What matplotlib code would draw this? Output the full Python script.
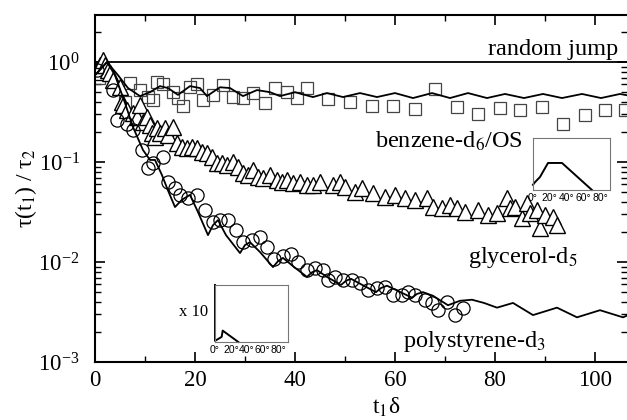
"""tau(t1)/tau2 vs t1*delta for three glass formers, log scale, with two angle-distribution insets."""
import matplotlib.pyplot as plt
import matplotlib as mpl
from matplotlib.ticker import MultipleLocator

mpl.rcParams.update({"font.family": "Liberation Serif", "font.size": 16.5,
                     "mathtext.fontset": "stix"})

# benzene-d6/OS: measured points and model curve
benz_t = [0.4, 0.8, 6, 7, 9, 10.6, 11.6, 12.4, 13.6, 15.6, 16.6, 17.6, 19, 20.4, 21.6,
          23.6, 25.6, 27.6, 29.6, 31.6, 34, 36, 38.4, 40.4, 42.4, 46.6, 51, 55.4, 59.6,
          64, 68, 72.4, 76.6, 81, 85, 89.4, 93.6, 98, 102, 106]
benz_v = [0.79, 0.69, 0.40, 0.62, 0.52, 0.45, 0.42, 0.63, 0.60, 0.50, 0.44, 0.36, 0.56,
          0.60, 0.42, 0.47, 0.59, 0.45, 0.44, 0.49, 0.39, 0.55, 0.50, 0.44, 0.55, 0.43,
          0.40, 0.36, 0.36, 0.34, 0.54, 0.355, 0.30, 0.35, 0.33, 0.355, 0.24, 0.295,
          0.33, 0.33]
benz_fit_t = [0, 2.4, 4.6, 6.6, 9, 11, 13, 14.6, 16.6, 19, 21, 22.4, 25, 27, 29.6, 32.4,
              35, 37, 40, 43.6, 46.4, 49.6, 53, 56.4, 60, 63.6, 67.4, 71, 74.6, 78.4,
              82, 85.8, 89.6, 93.4, 97.4, 101.2, 105, 107]
benz_fit_v = [0.74, 1.0, 0.74, 0.55, 0.457, 0.50, 0.575, 0.55, 0.47, 0.575, 0.55, 0.457,
              0.56, 0.55, 0.457, 0.525, 0.50, 0.457, 0.50, 0.447, 0.49, 0.447, 0.49,
              0.447, 0.49, 0.437, 0.49, 0.437, 0.49, 0.437, 0.48, 0.437, 0.48, 0.437,
              0.48, 0.437, 0.48, 0.46]

# glycerol-d5
glyc_t = [0, 0.6, 1, 1.6, 2, 2.6, 3, 3.6, 5, 5.4, 5.6, 6.4, 7.6, 8.4, 9, 9.6, 10.4, 11,
          11.4, 12, 12.4, 13, 14, 14.6, 15.6, 16.4, 17.4, 18.4, 19.4, 20.4, 21.4, 22.4,
          23.4, 24.4, 25.4, 26.4, 27.6, 28.6, 29.6, 30.6, 31.6, 32.6, 33.6, 35, 36.4,
          37.4, 38.4, 39.6, 41, 42.4, 43.6, 45, 47.6, 49, 50, 52, 53.4, 55.6, 58, 60,
          62, 64, 66.4, 67.6, 69.4, 71, 72.4, 74, 76.6, 78.6, 80.4, 82.4, 83, 84, 85.4,
          86.4, 87, 88.4, 89, 90, 91.6, 92.4]
glyc_v = [0.83, 0.79, 0.93, 1.05, 0.93, 0.83, 0.78, 0.66, 0.56, 0.40, 0.37, 0.33, 0.31,
          0.28, 0.37, 0.25, 0.28, 0.234, 0.195, 0.178, 0.22, 0.195, 0.22, 0.186, 0.224,
          0.155, 0.141, 0.138, 0.141, 0.138, 0.126, 0.123, 0.112, 0.098, 0.098, 0.093,
          0.10, 0.089, 0.078, 0.074, 0.083, 0.071, 0.069, 0.074, 0.066, 0.063, 0.066,
          0.062, 0.063, 0.059, 0.059, 0.063, 0.059, 0.063, 0.056, 0.050, 0.055, 0.049,
          0.045, 0.047, 0.044, 0.042, 0.044, 0.0355, 0.035, 0.037, 0.035, 0.0316, 0.033,
          0.0295, 0.031, 0.044, 0.035, 0.0355, 0.0275, 0.039, 0.031, 0.033, 0.022,
          0.0295, 0.028, 0.0234]

# polystyrene-d3
ps_t = [0.4, 3.6, 4.4, 6.4, 7.6, 9.4, 10.6, 11.6, 13.6, 14.6, 16, 17, 18.6, 20.4, 22,
        23.6, 25, 26.6, 28.2, 29.6, 31.4, 33, 34.4, 35.8, 37.6, 39.2, 40.6, 42.4, 44,
        45.6, 46.6, 48, 49.6, 51.4, 53, 54.6, 56.4, 58, 59.6, 61.4, 62.6, 64, 66, 67.4,
        68.6, 70.4, 72, 73.6]
ps_v = [0.83, 0.52, 0.263, 0.24, 0.209, 0.132, 0.087, 0.098, 0.112, 0.063, 0.055, 0.047,
        0.044, 0.047, 0.033, 0.025, 0.0263, 0.0263, 0.0209, 0.0158, 0.0166, 0.0178,
        0.0141, 0.0107, 0.0115, 0.012, 0.010, 0.0083, 0.0087, 0.0083, 0.0066, 0.0071,
        0.0066, 0.0066, 0.0062, 0.0052, 0.0055, 0.0056, 0.0047, 0.0047, 0.0050, 0.0047,
        0.0042, 0.0039, 0.0033, 0.0040, 0.00295, 0.0035]
ps_fit_t = [0, 2.4, 4, 6, 7.6, 9.6, 11, 12, 13.4, 14.6, 16, 17.4, 19, 20.6, 22.6, 23.6,
            24.6, 26.2, 29, 30, 31, 33, 35.6, 36.6, 37.6, 39.6, 42.4, 43.4, 44.4, 46.4,
            49.2, 50.2, 51.2, 53.2, 56.2, 57.2, 58.4, 60.4, 63.4, 64.4, 65.6, 67.6, 70.6,
            73, 75.4, 77.8, 80.4, 83.6, 87.6, 92.4, 96.4, 101, 105.6, 107]
ps_fit_v = [0.74, 1.0, 0.74, 0.39, 0.224, 0.132, 0.105, 0.105, 0.074, 0.052, 0.0355,
            0.042, 0.047, 0.0316, 0.0186, 0.0234, 0.0263, 0.0186, 0.0123, 0.0148, 0.0158,
            0.0126, 0.0089, 0.0102, 0.011, 0.0091, 0.0071, 0.0079, 0.0083, 0.0071,
            0.0059, 0.0065, 0.0068, 0.0060, 0.0050, 0.0055, 0.0058, 0.0052, 0.0044,
            0.0048, 0.0050, 0.0046, 0.0037, 0.0041, 0.0042, 0.0039, 0.0035, 0.0039,
            0.00295, 0.0035, 0.0028, 0.0033, 0.0028, 0.0030]

# inset distributions (angle in degrees, arbitrary units)
ang_benz = [0, 2.4, 8.4, 18, 34.7, 70.5]
dist_benz = [0.10, 0.15, 0.25, 0.52, 0.52, 0.0]
ang_ps = [0, 0, 8.4, 9.7, 29.4]
dist_ps = [1.0, 0.02, 0.09, 0.20, 0.0]
ang_ticks = [0, 20, 40, 60, 80]
ang_labels = ["0°", "20°", "40°", "60°", "80°"]

fig = plt.figure(figsize=(6.27, 4.2), dpi=100)
ax = fig.add_axes([0.1515, 0.138, 0.8485, 0.826])

ax.axhline(1.0, color="black", lw=1.3)
ax.plot(benz_fit_t, benz_fit_v, color="black", lw=1.3, zorder=3)
ax.plot(ps_fit_t, ps_fit_v, color="black", lw=1.3, zorder=3)
ax.plot(benz_t, benz_v, ls="none", marker="s", ms=8.5, mfc="none", mec="#444", mew=0.9)
ax.plot(glyc_t, glyc_v, ls="none", marker="^", ms=11, mfc="white", mec="black", mew=1.0)
ax.plot(ps_t, ps_v, ls="none", marker="o", ms=9.5, mfc="none", mec="black", mew=0.9)

ax.set_yscale("log")
ax.set_ylim(1e-3, 2.95)
ax.set_xlim(0, 106.4)
ax.set_xticks([0, 20, 40, 60, 80, 100])
ax.xaxis.set_minor_locator(MultipleLocator(10))
ax.tick_params(which="both", direction="in", top=True, right=True)
ax.tick_params(which="major", length=7, width=1.2)
ax.tick_params(which="minor", length=4, width=1.0)
ax.tick_params(axis="y", which="major", pad=11)
ax.tick_params(axis="x", which="major", pad=6)
for side in ["left", "top", "bottom"]:
    ax.spines[side].set_linewidth(1.5)
ax.spines["right"].set_visible(False)

ax.set_xlabel(r"t$_1$δ", fontsize=17)
ax.xaxis.set_label_coords(0.547, -0.097)
ax.set_ylabel(r"τ(t$_1$) / τ$_2$", fontsize=17)
ax.yaxis.set_label_coords(-0.105, 0.5)

ax.text(104.6, 1.17, "random jump", ha="right", va="baseline", fontsize=17.5)
ax.text(56, 0.138, r"benzene-d$_6$/OS", ha="left", va="baseline", fontsize=17.5)
ax.text(74.6, 0.0098, r"glycerol-d$_5$", ha="left", va="baseline", fontsize=17.5)
ax.text(61.6, 0.0014, r"polystyrene-d$_3$", ha="left", va="baseline", fontsize=17.5)


def inset(rect, ang, dist):
    ins = fig.add_axes(rect)
    ins.plot(ang, dist, color="black", lw=1.4, clip_on=False)
    ins.set_xlim(0, 92)
    ins.set_ylim(0, 1)
    ins.set_yticks([])
    ins.set_xticks(ang_ticks)
    ins.set_xticklabels(ang_labels, family="Liberation Sans", fontsize=7.5)
    ins.tick_params(length=0, pad=2)
    for s in ins.spines.values():
        s.set_color("#777")
        s.set_linewidth(0.8)
    return ins


inset([0.850, 0.5476, 0.1228, 0.1238], ang_benz, dist_benz)
inset([0.3429, 0.1857, 0.1164, 0.1357], ang_ps, dist_ps)
fig.text(0.332, 0.257, "x 10", ha="right", va="center", fontsize=12)

fig.savefig("out.png", dpi=100)
